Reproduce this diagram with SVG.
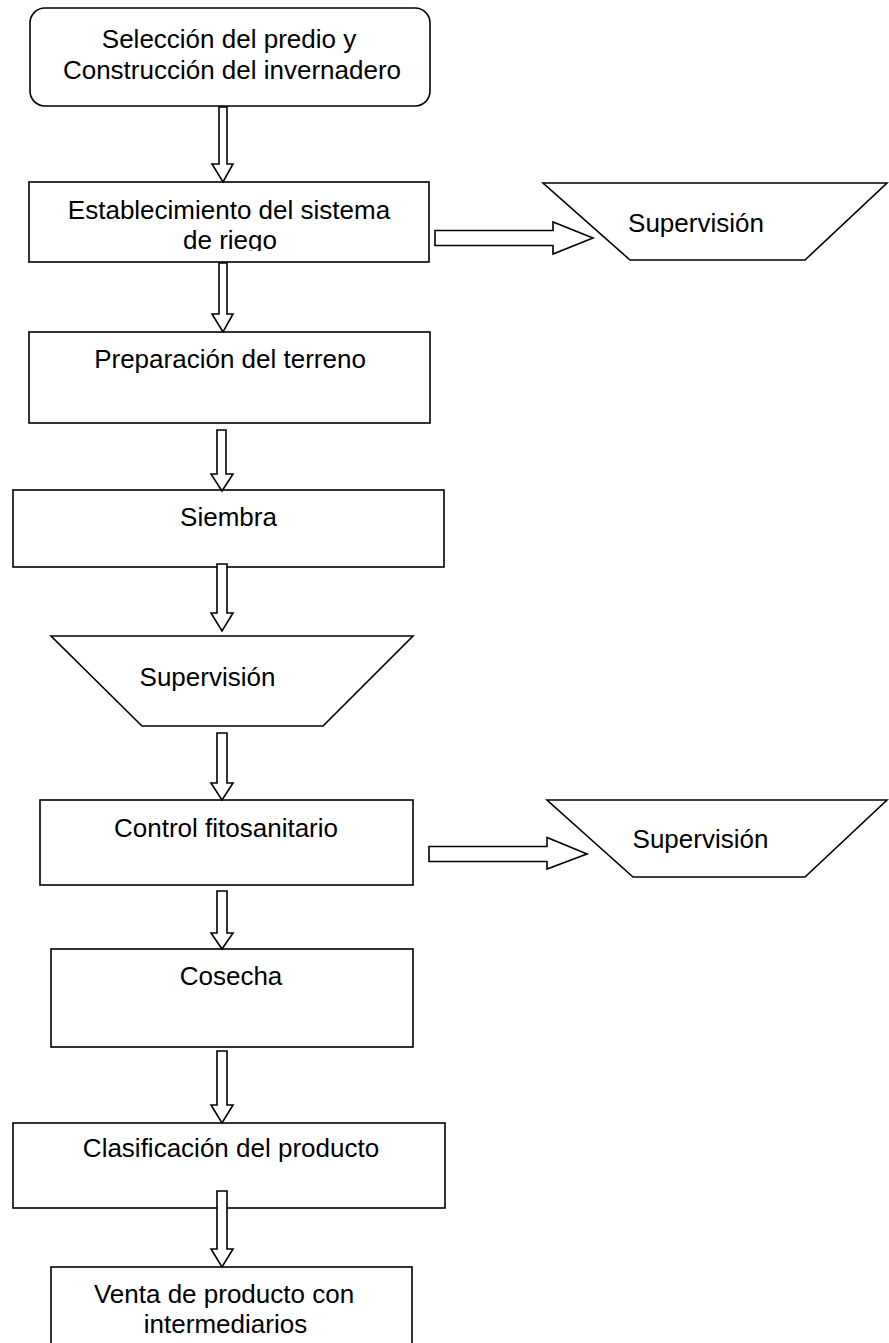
<svg xmlns="http://www.w3.org/2000/svg" width="889" height="1343" viewBox="0 0 889 1343">
<style>
.box{fill:#fff;stroke:#000;stroke-width:1.6}
.arr{fill:#fff;stroke:#000;stroke-width:1.6;stroke-linejoin:miter}
.t{font-family:"Liberation Sans",Arial,sans-serif;font-size:26px;fill:#000;text-anchor:middle}
</style>
<defs>
<clipPath id="clip2"><rect x="29" y="182" width="400" height="69"/></clipPath>
</defs>
<rect width="889" height="1343" fill="#fff"/>
<g id="n1">
<rect class="box" x="30" y="8" width="400" height="98" rx="15" ry="15"/>
<text class="t" x="229" y="48">Selección del predio y</text>
<text class="t" x="232" y="79">Construcción del invernadero</text>
</g>
<g id="n2">
<rect class="box" x="29" y="182" width="400" height="80"/>
<g clip-path="url(#clip2)">
<text class="t" x="229" y="219">Establecimiento del sistema</text>
<text class="t" x="230" y="249">de riego</text>
</g>
</g>
<g id="s1">
<polygon class="box" points="543,183 887,183 805,260 630,260"/>
<text class="t" x="696" y="232">Supervisión</text>
</g>
<g id="n3">
<rect class="box" x="29" y="332" width="401" height="91"/>
<text class="t" x="230" y="368">Preparación del terreno</text>
</g>
<g id="n4">
<rect class="box" x="13" y="490" width="431" height="77"/>
<text class="t" x="228.5" y="526">Siembra</text>
</g>
<g id="s2">
<polygon class="box" points="51,636 413,636 323,726 142,726"/>
<text class="t" x="207.5" y="686">Supervisión</text>
</g>
<g id="n5">
<rect class="box" x="40" y="800" width="373" height="85"/>
<text class="t" x="226" y="837">Control fitosanitario</text>
</g>
<g id="s3">
<polygon class="box" points="547,800 887,800 805,877 633,877"/>
<text class="t" x="700.5" y="848">Supervisión</text>
</g>
<g id="n6">
<rect class="box" x="51" y="949" width="362" height="98"/>
<text class="t" x="231" y="985">Cosecha</text>
</g>
<g id="n7">
<rect class="box" x="13" y="1123" width="432" height="85"/>
<text class="t" x="231" y="1157">Clasificación del producto</text>
</g>
<g id="n8">
<rect class="box" x="51" y="1267" width="361" height="100"/>
<text class="t" x="224" y="1303">Venta de producto con</text>
<text class="t" x="225.5" y="1333">intermediarios</text>
</g>
<g id="connectors">
<path class="arr" d="M219,107 L227,107 L227,164 L233,164 L223,182 L212,164 L219,164 Z"/>
<path class="arr" d="M219,263 L227,263 L227,314 L233,314 L223,332 L212,314 L219,314 Z"/>
<path class="arr" d="M217,430 L226,430 L226,474 L233,474 L222,491 L211,474 L217,474 Z"/>
<path class="arr" d="M217,564 L227,564 L227,613 L233,613 L222,631 L211,613 L217,613 Z"/>
<path class="arr" d="M217,733 L227,733 L227,783 L233,783 L222,800 L211,783 L217,783 Z"/>
<path class="arr" d="M217,891 L227,891 L227,933 L233,933 L222,949 L211,933 L217,933 Z"/>
<path class="arr" d="M217,1051 L227,1051 L227,1105 L233,1105 L222,1123 L211,1105 L217,1105 Z"/>
<path class="arr" d="M217,1191 L227,1191 L227,1249 L233,1249 L222,1267 L211,1249 L217,1249 Z"/>
<path class="arr" d="M435,230.5 L553,230.5 L553,222 L593,238 L553,254 L553,245.5 L435,245.5 Z"/>
<path class="arr" d="M429,846.5 L547,846.5 L547,837.5 L587,854 L547,869 L547,861.5 L429,861.5 Z"/>
</g>
</svg>
